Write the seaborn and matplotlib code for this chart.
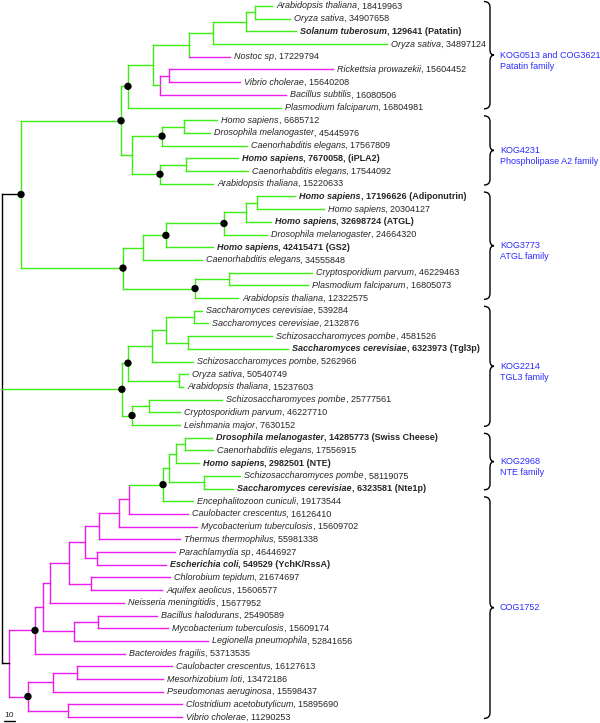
import numpy as np
import pandas as pd
import seaborn as sns
import matplotlib.pyplot as plt
from matplotlib.path import Path
from matplotlib.patches import PathPatch
from matplotlib.collections import LineCollection
from matplotlib import transforms

# # LEAVES (top to bottom)

species = [
    "Arabidopsis thaliana", "Oryza sativa", "Solanum tuberosum", "Oryza sativa",
    "Nostoc sp", "Rickettsia prowazekii", "Vibrio cholerae", "Bacillus subtilis",
    "Plasmodium falciparum", "Homo sapiens", "Drosophila melanogaster",
    "Caenorhabditis elegans", "Homo sapiens", "Caenorhabditis elegans",
    "Arabidopsis thaliana", "Homo sapiens", "Homo sapiens", "Homo sapiens",
    "Drosophila melanogaster", "Homo sapiens", "Caenorhabditis elegans",
    "Cryptosporidium parvum", "Plasmodium falciparum", "Arabidopsis thaliana",
    "Saccharomyces cerevisiae", "Saccharomyces cerevisiae",
    "Schizosaccharomyces pombe", "Saccharomyces cerevisiae",
    "Schizosaccharomyces pombe", "Oryza sativa", "Arabidopsis thaliana",
    "Schizosaccharomyces pombe", "Cryptosporidium parvum", "Leishmania major",
    "Drosophila melanogaster", "Caenorhabditis elegans", "Homo sapiens",
    "Schizosaccharomyces pombe", "Saccharomyces cerevisiae",
    "Encephalitozoon cuniculi", "Caulobacter crescentus",
    "Mycobacterium tuberculosis", "Thermus thermophilus", "Parachlamydia sp",
    "Escherichia coli", "Chlorobium tepidum", "Aquifex aeolicus",
    "Neisseria meningitidis", "Bacillus halodurans", "Mycobacterium tuberculosis",
    "Legionella pneumophila", "Bacteroides fragilis", "Caulobacter crescentus",
    "Mesorhizobium loti", "Pseudomonas aeruginosa", "Clostridium acetobutylicum",
    "Vibrio cholerae",
]

accession = [
    "18419963", "34907658", "129641 (Patatin)", "34897124", "17229794",
    "15604452", "15640208", "16080506", "16804981", "6685712", "45445976",
    "17567809", "7670058, (iPLA2)", "17544092", "15220633",
    "17196626 (Adiponutrin)", "20304127", "32698724 (ATGL)", "24664320",
    "42415471 (GS2)", "34555848", "46229463", "16805073", "12322575",
    "539284", "2132876", "4581526", "6323973 (Tgl3p)", "5262966", "50540749",
    "15237603", "25777561", "46227710", "7630152", "14285773 (Swiss Cheese)",
    "17556915", "2982501 (NTE)", "58119075", "6323581 (Nte1p)", "19173544",
    "16126410", "15609702", "55981338", "46446927", "549529 (YchK/RssA)",
    "21674697", "15606577", "15677952", "25490589", "15609174", "52841656",
    "53713535", "16127613", "13472186", "15598437", "15895690", "11290253",
]

# characterised proteins, shown in bold
highlighted = [2, 12, 15, 17, 19, 27, 34, 36, 38, 44]

# distance from root to each tip (scale bar = 10)
tip_depth = [
    245.5, 261.8, 267.3, 350.0, 207.3, 301.0, 216.4, 258.2, 253.6,
    195.5, 189.0, 222.7, 214.5, 223.6, 191.8,
    266.4, 292.7, 244.5, 241.0, 191.8, 181.8, 281.8, 278.2, 214.5,
    181.8, 187.3, 245.5, 260.0, 173.6, 169.0, 164.5, 200.0, 161.8, 161.8,
    191.0, 191.8, 179.0, 216.4, 210.0, 173.6,
    169.0, 177.3, 161.8, 157.3, 149.0, 152.7, 145.5, 111.0, 141.0, 151.0,
    187.3, 111.8, 154.5, 146.4, 146.4, 163.6, 163.6,
]

# # INTERNAL NODES (name, children, depth) -- children before parents

clades = [
    ("a1", [0, 1], 230.0), ("a2", ["a1", 2], 221.8), ("a3", ["a2", 3], 191.8),
    ("a4", ["a3", 4], 170.0), ("e1", [5, 6], 151.8), ("e2", ["e1", 7], 143.6),
    ("f", ["a4", "e2"], 137.3), ("g", ["f", 8], 114.5),
    ("p1", [9, 10], 165.5), ("p2", ["p1", 11], 145.5), ("p3", [12, 13], 167.3),
    ("p4", ["p3", 14], 143.6), ("p5", ["p2", "p4"], 118.2), ("h", ["g", "p5"], 108.2),
    ("t1", [15, 16], 231.8), ("t2", ["t1", 17], 221.8), ("t3", ["t2", 18], 201.8),
    ("t4", ["t3", 19], 149.0), ("t5", ["t4", 20], 128.2), ("t6", [21, 22], 206.4),
    ("t7", ["t6", 23], 175.5), ("j", ["t5", "t7"], 110.0), ("i", ["h", "j"], 17.3),
    ("s1", [24, 25], 174.5), ("s2", [26, 27], 169.0), ("s3", ["s1", "s2"], 149.0),
    ("s4", ["s3", 28], 136.4), ("s5", [29, 30], 161.0), ("s6", ["s4", "s5"], 114.5),
    ("s7", [31, 32], 133.6), ("s8", ["s7", 33], 118.2), ("k", ["s6", "s8"], 109.0),
    ("n1", [34, 35], 166.4), ("n2", ["n1", 36], 158.2), ("n3", [37, 38], 183.6),
    ("n4", ["n2", "n3"], 151.8), ("n5", ["n4", 39], 146.4),
    ("b1", ["n5", 40], 115.5), ("b2", ["b1", 41], 106.4), ("b3", ["b2", 42], 88.2),
    ("b4", [43, 44], 86.4), ("b5", ["b3", "b4"], 75.5), ("b6", [45, 46], 81.0),
    ("b7", ["b5", "b6"], 61.0), ("b8", ["b7", 47], 43.6), ("b9", [48, 49], 87.3),
    ("b10", ["b9", 50], 65.5), ("b11", ["b8", "b10"], 37.3), ("b12", ["b11", 51], 30.0),
    ("b13", [52, 53], 68.2), ("b14", ["b13", 54], 46.4), ("b15", [55, 56], 60.0),
    ("b16", ["b14", "b15"], 23.6), ("b17", ["b12", "b16"], 6.4),
    ("root", ["i", "k", "b17"], 0.0),
]

# well supported nodes (black dots)
supported = ["g", "p2", "p4", "h", "t3", "t4", "t7", "j", "i",
             "s6", "s8", "k", "n5", "b12", "b16"]

# prokaryotic branches are drawn in magenta
magenta_verticals = ["e1", "e2"] + ["b%d" % n for n in range(1, 18)]
magenta_branches = [4, 5, 6, 7, "e1"] + list(range(40, 57)) + ["b%d" % n for n in range(1, 17)]
black_branches = ["i", "b17"]

# # FAMILIES (brackets on the right)

family_text = [
    ["KOG0513 and COG3621", "Patatin family"],
    ["KOG4231", "Phospholipase A2 family"],
    ["KOG3773", "ATGL family"],
    ["KOG2214", "TGL3 family"],
    ["KOG2968", "NTE family"],
    ["COG1752"],
]
family_first = [0, 9, 15, 24, 34, 39]
family_last = [8, 14, 23, 33, 38, 56]

GREEN = "#3cee14"
MAGENTA = "#ee1cee"
BLUE = "#2b2bff"

# # LAYOUT

xpos = {n: d for n, d in enumerate(tip_depth)}
ypos = {n: float(n) for n in range(len(species))}
for name, kids, depth in clades:
    xpos[name] = depth
    ypos[name] = (ypos[kids[0]] + ypos[kids[-1]]) / 2


def branch_colour(node):
    if node in black_branches:
        return "black"
    return MAGENTA if node in magenta_branches else GREEN


segs, cols = [], []
for name, kids, depth in clades:
    col = "black" if name == "root" else (MAGENTA if name in magenta_verticals else GREEN)
    segs.append([(depth, ypos[kids[0]]), (depth, ypos[kids[-1]])])
    cols.append(col)
    for kid in kids:
        segs.append([(depth, ypos[kid]), (xpos[kid], ypos[kid])])
        cols.append(branch_colour(kid))

# # DRAW

sns.set_theme(style="white")
plt.rcParams["font.family"] = ["Liberation Sans", "DejaVu Sans"]

fig = plt.figure(figsize=(6, 7.23), dpi=100)
ax = fig.add_axes([0, 0, 1, 1])
ax.set_xlim(-1.82, 543.6)
ax.set_ylim(56.46, -0.47)
ax.axis("off")

ax.add_collection(LineCollection(segs, colors=cols, linewidths=1.0, capstyle="projecting"))

dots = pd.DataFrame({"x": [xpos[n] for n in supported], "y": [ypos[n] for n in supported]})
sns.scatterplot(data=dots, x="x", y="y", color="black", s=28, edgecolor="none", ax=ax, zorder=5)

fs = 6.5
for n, (sp, acc) in enumerate(zip(species, accession)):
    weight = "bold" if n in highlighted else "normal"
    t = ax.annotate(sp, xy=(tip_depth[n], n), xytext=(4, 0), textcoords="offset pixels",
                    va="center", ha="left", fontsize=fs, style="italic", fontweight=weight)
    ax.annotate(", " + acc, xy=(1, 0), xycoords=t, va="bottom", ha="left",
                fontsize=fs, fontweight=weight)

# curly brackets + family names
bt = transforms.blended_transform_factory(ax.transAxes, ax.transData)
x_tip, x_spine, x_cusp = 484 / 600, 490 / 600, 494 / 600
curl = 0.45
for lines, first, last in zip(family_text, family_first, family_last):
    top, bot = first - 0.35, last + 0.1
    mid = (top + bot) / 2
    verts = [(x_tip, top), (x_spine, top), (x_spine, top + curl),
             (x_spine, mid - curl), (x_spine, mid), (x_cusp, mid),
             (x_spine, mid), (x_spine, mid + curl),
             (x_spine, bot - curl), (x_spine, bot), (x_tip, bot)]
    codes = [Path.MOVETO, Path.CURVE3, Path.CURVE3, Path.LINETO, Path.CURVE3, Path.CURVE3,
             Path.CURVE3, Path.CURVE3, Path.LINETO, Path.CURVE3, Path.CURVE3]
    ax.add_patch(PathPatch(Path(verts, codes), fill=False, lw=1.0, color="black", transform=bt))
    for k, line in enumerate(lines):
        ax.text(500 / 600, mid + k * 0.87, line, transform=bt, color=BLUE,
                fontsize=fs, va="center", ha="left")

# scale bar
ax.plot([1.8, 11.8], [56.3, 56.3], color="black", lw=1.0)
ax.text(6.8, 55.85, "10", fontsize=6, ha="center", va="center")

fig.savefig("out.png", dpi=100)
plt.close()
